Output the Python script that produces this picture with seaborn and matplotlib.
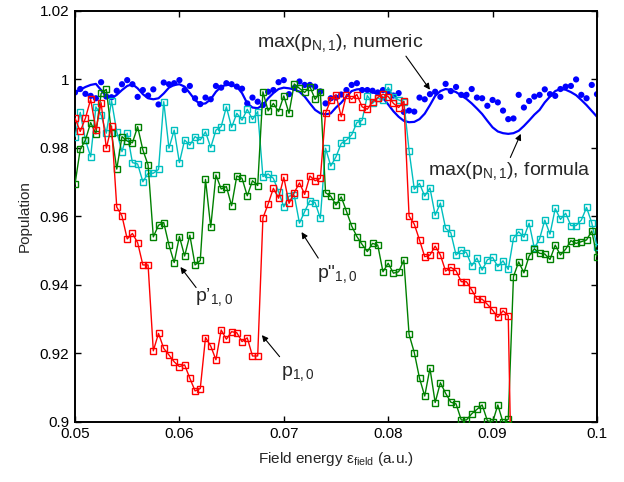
import numpy as np
import pandas as pd
import matplotlib
matplotlib.use("Agg")
import matplotlib.pyplot as plt
import seaborn as sns

# ---------------- data ----------------
field = np.round(0.05 + 0.0005 * np.arange(101), 4)

p10 = [0.9887, 0.9848, 0.9887, 0.9942, 0.9853, 0.9932, 0.9799, 0.9864, 0.9627, 0.9601,
       0.9534, 0.9550, 0.9523, 0.9458, 0.9458, 0.9207, 0.9258, 0.9214, 0.9195, 0.9175,
       0.9161, 0.9166, 0.9127, 0.9090, 0.9097, 0.9246, 0.9221, 0.9181, 0.9268, 0.9241,
       0.9263, 0.9260, 0.9234, 0.9245, 0.9192, 0.9192, 0.9595, 0.9636, 0.9682, 0.9653,
       0.9714, 0.9638, 0.9669, 0.9698, 0.9664, 0.9718, 0.9704, 0.9711, 0.9902, 0.9940,
       0.9955, 0.9891, 0.9956, 0.9942, 0.9956, 0.9920, 0.9913, 0.9935, 0.9947, 0.9957,
       0.9950, 0.9930, 0.9918, 0.9936, 0.9601, 0.9577, 0.9531, 0.9482, 0.9487, 0.9513,
       0.9487, 0.9440, 0.9451, 0.9441, 0.9409, 0.9409, 0.9385, 0.9358, 0.9358, 0.9343,
       0.9326, 0.9305, 0.9324, 0.9310, 0.8500, 0.8500, 0.8500, 0.8500, 0.8500, 0.8500,
       0.8500, 0.8500, 0.8500, 0.8500, 0.8500, 0.8500, 0.8500, 0.8500, 0.8500, 0.8500,
       0.8500]

p10_prime = [0.9694, 0.9796, 0.9823, 0.9874, 0.9841, 0.9959, 0.9971, 0.9843, 0.9738, 0.9833,
             0.9820, 0.9815, 0.9862, 0.9794, 0.9750, 0.9540, 0.9574, 0.9582, 0.9516, 0.9465,
             0.9541, 0.9484, 0.9545, 0.9458, 0.9471, 0.9708, 0.9568, 0.9721, 0.9680, 0.9687,
             0.9631, 0.9718, 0.9711, 0.9660, 0.9704, 0.9690, 0.9964, 0.9908, 0.9930, 0.9906,
             0.9952, 0.9901, 0.9987, 0.9974, 0.9962, 0.9979, 0.9942, 0.9964, 0.9669, 0.9659,
             0.9633, 0.9657, 0.9615, 0.9572, 0.9541, 0.9518, 0.9497, 0.9521, 0.9516, 0.9438,
             0.9463, 0.9434, 0.9438, 0.9472, 0.9255, 0.9202, 0.9127, 0.9075, 0.9156, 0.9056,
             0.9114, 0.9083, 0.9057, 0.9052, 0.9005, 0.9005, 0.9023, 0.9036, 0.9049, 0.9003,
             0.8998, 0.9049, 0.8998, 0.9007, 0.9424, 0.9467, 0.9435, 0.9484, 0.9505, 0.9492,
             0.9490, 0.9474, 0.9516, 0.9487, 0.9504, 0.9529, 0.9521, 0.9526, 0.9531, 0.9557,
             0.9482]

p10_second = [0.9833, 0.9904, 0.9823, 0.9774, 0.9920, 0.9896, 0.9843, 0.9938, 0.9847, 0.9789,
              0.9843, 0.9757, 0.9753, 0.9701, 0.9726, 0.9726, 0.9737, 0.9935, 0.9799, 0.9852,
              0.9757, 0.9823, 0.9808, 0.9833, 0.9823, 0.9847, 0.9801, 0.9852, 0.9862, 0.9920,
              0.9860, 0.9901, 0.9881, 0.9913, 0.9883, 0.9906, 0.9716, 0.9724, 0.9711, 0.9672,
              0.9628, 0.9659, 0.9662, 0.9580, 0.9614, 0.9646, 0.9640, 0.9594, 0.9799, 0.9747,
              0.9774, 0.9813, 0.9823, 0.9838, 0.9874, 0.9880, 0.9953, 0.9930, 0.9945, 0.9940,
              0.9977, 0.9950, 0.9940, 0.9935, 0.9792, 0.9679, 0.9696, 0.9659, 0.9683, 0.9603,
              0.9639, 0.9565, 0.9552, 0.9487, 0.9501, 0.9494, 0.9455, 0.9478, 0.9443, 0.9473,
              0.9480, 0.9453, 0.9470, 0.9445, 0.9536, 0.9555, 0.9539, 0.9580, 0.9507, 0.9534,
              0.9589, 0.9548, 0.9623, 0.9591, 0.9609, 0.9573, 0.9573, 0.9589, 0.9626, 0.9581,
              0.9511]

max_numeric = [0.9962, 0.9972, 0.9958, 0.9952, 0.9945, 0.9992, 0.9950, 0.9948, 0.9967, 0.9986,
               0.9998, 0.9986, 0.9949, 0.9969, 0.9953, 0.9971, 0.9927, 0.9991, 0.9986, 0.9989,
               0.9998, 0.9969, 0.9981, 0.9945, 0.9928, 0.9947, 0.9942, 0.9981, 0.9976, 0.9989,
               0.9986, 0.9979, 0.9973, 0.9930, 0.9947, 0.9935, 0.9925, 0.9964, 0.9969, 0.9992,
               0.9998, 0.9957, 0.9975, 0.9994, 0.9984, 0.9984, 0.9979, 0.9965, 0.9930, 0.9945,
               0.9947, 0.9956, 0.9969, 0.9984, 0.9989, 0.9969, 0.9969, 0.9967, 0.9962, 0.9969,
               0.9964, 0.9953, 0.9960, 0.9905, 0.9909, 0.9906, 0.9947, 0.9942, 0.9957, 0.9964,
               0.9949, 0.9987, 0.9966, 0.9978, 0.9955, 0.9955, 0.9972, 0.9947, 0.9945, 0.9923,
               0.9940, 0.9933, 0.9909, 0.9884, 0.9886, 0.9955, 0.9918, 0.9937, 0.9950, 0.9955,
               0.9971, 0.9957, 0.9952, 0.9972, 0.9979, 0.9981, 1.0000, 0.9955, 0.9945, 0.9984,
               0.9957]

max_formula = [0.9962, 0.9970, 0.9978, 0.9984, 0.9987, 0.9969, 0.9950, 0.9945, 0.9955, 0.9969,
               0.9981, 0.9986, 0.9974, 0.9957, 0.9945, 0.9942, 0.9945, 0.9959, 0.9976, 0.9984,
               0.9986, 0.9979, 0.9960, 0.9940, 0.9928, 0.9930, 0.9942, 0.9964, 0.9979, 0.9984,
               0.9984, 0.9979, 0.9960, 0.9930, 0.9918, 0.9916, 0.9925, 0.9945, 0.9960, 0.9972,
               0.9976, 0.9974, 0.9971, 0.9964, 0.9950, 0.9930, 0.9911, 0.9901, 0.9898, 0.9901,
               0.9918, 0.9932, 0.9950, 0.9966, 0.9971, 0.9972, 0.9968, 0.9963, 0.9957, 0.9946,
               0.9927, 0.9907, 0.9891, 0.9879, 0.9875, 0.9876, 0.9884, 0.9900, 0.9925, 0.9952,
               0.9966, 0.9972, 0.9969, 0.9963, 0.9953, 0.9943, 0.9930, 0.9915, 0.9899, 0.9879,
               0.9860, 0.9848, 0.9843, 0.9841, 0.9843, 0.9850, 0.9864, 0.9880, 0.9897, 0.9911,
               0.9933, 0.9950, 0.9966, 0.9972, 0.9970, 0.9963, 0.9954, 0.9940, 0.9925, 0.9908,
               0.9891]

x_ticks = [0.05, 0.06, 0.07, 0.08, 0.09, 0.1]
x_tick_labels = ["0.05", "0.06", "0.07", "0.08", "0.09", "0.1"]
y_ticks = [0.9, 0.92, 0.94, 0.96, 0.98, 1.0, 1.02]
y_tick_labels = ["0.9", "0.92", "0.94", "0.96", "0.98", "1", "1.02"]

df = pd.DataFrame({"field": field, "p10": p10, "p10_prime": p10_prime,
                   "p10_second": p10_second, "numeric": max_numeric,
                   "formula": max_formula})

# ---------------- style ----------------
sns.set_theme(style="ticks")
plt.rcParams["font.family"] = ["Liberation Sans", "DejaVu Sans"]
plt.rcParams["mathtext.fontset"] = "custom"
plt.rcParams["mathtext.rm"] = "Liberation Sans"
plt.rcParams["mathtext.it"] = "Liberation Sans"
plt.rcParams["mathtext.bf"] = "Liberation Sans:bold"

fig = plt.figure(figsize=(6.24, 4.82), dpi=100)
ax = fig.add_axes([0.1202, 0.1251, 0.8365, 0.8521])

GREEN = (0.0, 0.5, 0.0)
CYAN = (0.0, 0.75, 0.75)

sns.lineplot(data=df, x="field", y="formula", color="blue", lw=1.6, ax=ax,
             errorbar=None, zorder=2)
sns.scatterplot(data=df, x="field", y="numeric", color="blue", s=20,
                edgecolor="none", linewidth=0, ax=ax, zorder=2.5)

for col, c in [("p10_second", CYAN), ("p10_prime", GREEN), ("p10", "red")]:
    sns.lineplot(data=df, x="field", y=col, color=c, lw=1.0, marker="s",
                 markersize=4.0, markerfacecolor="none", markeredgecolor=c,
                 markeredgewidth=1.0, errorbar=None, ax=ax, zorder=3)

ax.set_xlim(0.05, 0.1)
ax.set_ylim(0.9, 1.02)
ax.set_xticks(x_ticks)
ax.set_xticklabels(x_tick_labels)
ax.set_yticks(y_ticks)
ax.set_yticklabels(y_tick_labels)
ax.tick_params(direction="in", top=True, right=True, length=4, width=1,
               labelsize=11, pad=4, colors="black")
for s in ax.spines.values():
    s.set_linewidth(1.4)
    s.set_color("black")
    s.set_visible(True)

ax.set_xlabel(r"Field energy ε$_{\mathrm{field}}$ (a.u.)", fontsize=11, labelpad=6)
ax.set_ylabel("Population", fontsize=11, labelpad=6)

# ---------------- annotations ----------------
arrow_kw = dict(arrowstyle="-|>", color="black", lw=0.8, mutation_scale=9,
                shrinkA=0, shrinkB=0)
TS = 14
ax.text(0.07545, 1.0106, r"max(p$_{\mathrm{N,1}}$), numeric", fontsize=TS,
        ha="center", va="center")
ax.annotate("", xy=(0.0840, 0.9970), xytext=(0.0817, 1.0068), arrowprops=arrow_kw)

ax.text(0.09165, 0.9733, r"max(p$_{\mathrm{N,1}}$), formula", fontsize=TS,
        ha="center", va="center")
ax.annotate("", xy=(0.0927, 0.9841), xytext=(0.0917, 0.9772), arrowprops=arrow_kw)

ax.text(0.0615, 0.9365, "p\u2019$_{\\mathrm{1,0}}$", fontsize=TS, ha="left", va="center")
ax.annotate("", xy=(0.0601, 0.9452), xytext=(0.0616, 0.9392), arrowprops=arrow_kw)

ax.text(0.0732, 0.9430, "p\"$_{\\mathrm{1,0}}$", fontsize=TS, ha="left", va="center")
ax.annotate("", xy=(0.0717, 0.9554), xytext=(0.0733, 0.9478), arrowprops=arrow_kw)

ax.text(0.0697, 0.9140, "p$_{\\mathrm{1,0}}$", fontsize=TS, ha="left", va="center")
ax.annotate("", xy=(0.0679, 0.9253), xytext=(0.0696, 0.9190), arrowprops=arrow_kw)

fig.savefig("out.png", dpi=100)
